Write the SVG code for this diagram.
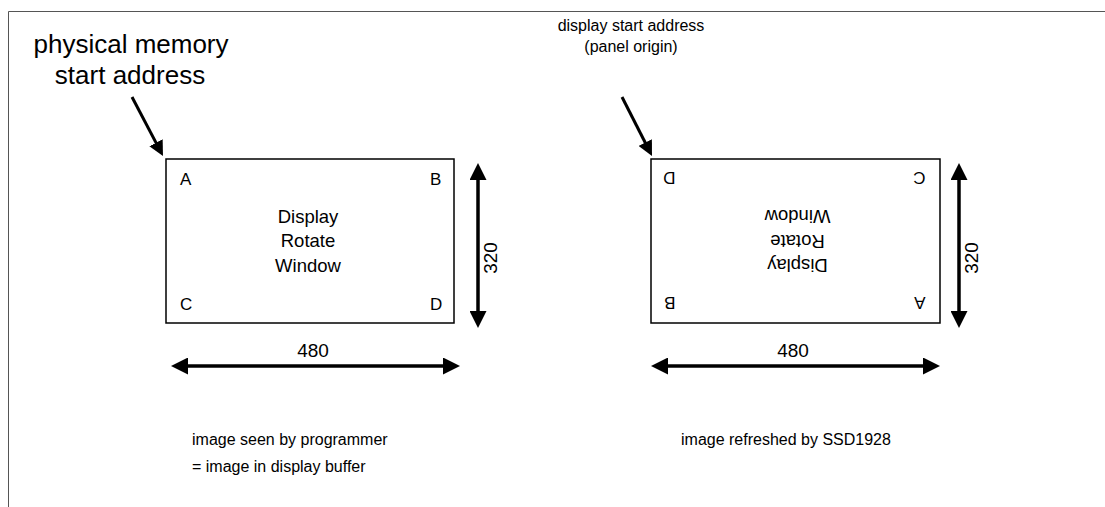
<svg xmlns="http://www.w3.org/2000/svg" width="1105" height="507" viewBox="0 0 1105 507">
  <style>
    text { font-family: "Liberation Sans", Arial, sans-serif; fill: #000; }
    .title { font-size: 26px; text-anchor: middle; }
    .lbl { font-size: 16px; }
    .mid { text-anchor: middle; }
    .corner { font-size: 17px; }
    .center { font-size: 18.5px; text-anchor: middle; }
    .dim { font-size: 19px; text-anchor: middle; }
    .box { fill: #fff; stroke: #000; stroke-width: 1.5; }
    .dimline { stroke: #000; stroke-width: 3.5; fill: none; marker-start: url(#ah); marker-end: url(#ah); }
    .ptr { stroke: #000; stroke-width: 3; fill: none; marker-end: url(#ah2); }
    .frame { stroke: #555; stroke-width: 1; fill: none; }
  </style>
  <defs>
    <marker id="ah" viewBox="0 0 10 10" refX="5" refY="5" markerWidth="17" markerHeight="17" markerUnits="userSpaceOnUse" orient="auto-start-reverse">
      <path d="M0,0 L10,5 L0,10 z" fill="#000"/>
    </marker>
    <marker id="ah2" viewBox="0 0 10 10" refX="5" refY="5" markerWidth="15" markerHeight="15" markerUnits="userSpaceOnUse" orient="auto">
      <path d="M0,0 L10,5 L0,10 z" fill="#000"/>
    </marker>
  </defs>
  <rect width="1105" height="507" fill="#fff"/>
  <path class="frame" d="M8.5,507 V11.5 H1105"/>

  <g id="label-physical">
    <text class="title" x="131" y="53">physical memory</text>
    <text class="title" x="130" y="84">start address</text>
  </g>
  <g id="label-display-start">
    <text class="lbl mid" x="631" y="31">display start address</text>
    <text class="lbl mid" x="631" y="52">(panel origin)</text>
  </g>

  <g id="window-programmer">
    <rect class="box" x="166" y="159" width="288" height="164"/>
    <text class="corner" x="180" y="185">A</text>
    <text class="corner" x="430" y="185">B</text>
    <text class="corner" x="180" y="310">C</text>
    <text class="corner" x="430" y="310">D</text>
    <text class="center" x="308" y="223">Display</text>
    <text class="center" x="308" y="247">Rotate</text>
    <text class="center" x="308" y="272">Window</text>
  </g>

  <g id="window-refreshed">
    <rect class="box" x="651" y="159" width="289" height="164"/>
    <g transform="translate(795.5,241) rotate(180) translate(-310,-241)">
      <text class="corner" x="180" y="185">A</text>
      <text class="corner" x="430" y="185">B</text>
      <text class="corner" x="180" y="310">C</text>
      <text class="corner" x="430" y="310">D</text>
      <text class="center" x="308" y="223">Display</text>
      <text class="center" x="308" y="247">Rotate</text>
      <text class="center" x="308" y="272">Window</text>
    </g>
  </g>

  <g id="dim-labels">
    <text class="dim" x="313" y="357">480</text>
    <text class="dim" x="793" y="357">480</text>
    <text class="dim" transform="translate(497,258) rotate(-90)" x="0" y="0">320</text>
    <text class="dim" transform="translate(978,258) rotate(-90)" x="0" y="0">320</text>
  </g>

  <g id="captions">
    <text class="lbl" x="192" y="445">image seen by programmer</text>
    <text class="lbl" x="192" y="472">= image in display buffer</text>
    <text class="lbl" x="681" y="445">image refreshed by SSD1928</text>
  </g>

  <g id="connectors">
    <line class="ptr" x1="132" y1="97" x2="159.5" y2="149.4"/>
    <line class="ptr" x1="622" y1="97" x2="648.6" y2="149.3"/>
    <line class="dimline" x1="478" y1="171.5" x2="478" y2="319.5"/>
    <line class="dimline" x1="179.5" y1="366" x2="451.5" y2="366"/>
    <line class="dimline" x1="959" y1="171.5" x2="959" y2="319.5"/>
    <line class="dimline" x1="659.5" y1="366" x2="931.5" y2="366"/>
  </g>
</svg>
